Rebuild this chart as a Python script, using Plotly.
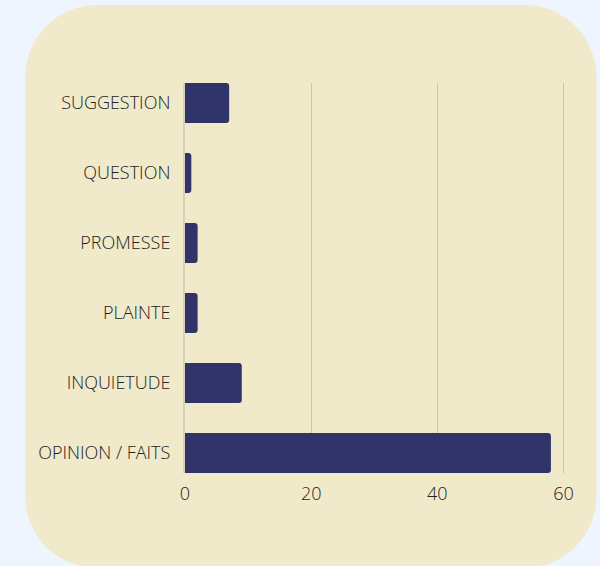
import plotly.graph_objects as go

categories = ["SUGGESTION", "QUESTION", "PROMESSE", "PLAINTE", "INQUIETUDE", "OPINION / FAITS"]
values = [7, 1, 2, 2, 9, 58]
x_ticks = [0, 20, 40, 60]

W, H = 600, 566
L, R, T, B = 185, 573.5, 83, 473  # plot area in pixels

def px(x):
    return (x - L) / (R - L)

def py(y):
    return (B - y) / (B - T)

def rounded_rect(x0, y0, x1, y1, r):
    k = 0.5523 * r
    pts = []
    pts.append(f"M {px(x0 + r)},{py(y0)}")
    pts.append(f"L {px(x1 - r)},{py(y0)}")
    pts.append(f"C {px(x1 - r + k)},{py(y0)} {px(x1)},{py(y0 + r - k)} {px(x1)},{py(y0 + r)}")
    pts.append(f"L {px(x1)},{py(y1 - r)}")
    pts.append(f"C {px(x1)},{py(y1 - r + k)} {px(x1 - r + k)},{py(y1)} {px(x1 - r)},{py(y1)}")
    pts.append(f"L {px(x0 + r)},{py(y1)}")
    pts.append(f"C {px(x0 + r - k)},{py(y1)} {px(x0)},{py(y1 - r + k)} {px(x0)},{py(y1 - r)}")
    pts.append(f"L {px(x0)},{py(y0 + r)}")
    pts.append(f"C {px(x0)},{py(y0 + r - k)} {px(x0 + r - k)},{py(y0)} {px(x0 + r)},{py(y0)}")
    pts.append("Z")
    return " ".join(pts)

fig = go.Figure(go.Bar(
    x=values[::-1],
    y=categories[::-1],
    orientation="h",
    marker=dict(color="#303468", cornerradius=3, line=dict(width=0)),
    hoverinfo="x+y",
))

fig.add_shape(type="path", xref="paper", yref="paper",
              path=rounded_rect(25, 5, 597, 568, 72),
              fillcolor="#f0eaca", line=dict(width=0), layer="below")

n = len(categories)
fig.update_layout(
    width=W, height=H,
    margin=dict(l=L, r=W - R, t=T, b=H - B, pad=0),
    paper_bgcolor="#eef5ff",
    plot_bgcolor="rgba(0,0,0,0)",
    bargap=0.43,
    showlegend=False,
    font=dict(family="Open Sans", size=18, color="#222222", weight=300),
    xaxis=dict(range=[0, 61.5], tickvals=x_ticks, showgrid=True,
               gridcolor="#c9c4ac", gridwidth=1, zeroline=False,
               showline=False, ticks="", ticklabelstandoff=8),
    yaxis=dict(range=[-0.2857, n - 1 + 0.2857], showgrid=False,
               showline=True, linecolor="#d6d0b5", linewidth=2,
               zeroline=False, ticks="", ticklabelstandoff=9),
)

fig.write_html(
    "out.html",
    config={"displayModeBar": False},
    post_script="document.body.style.margin='0';document.body.style.background='#eef5ff';",
)
